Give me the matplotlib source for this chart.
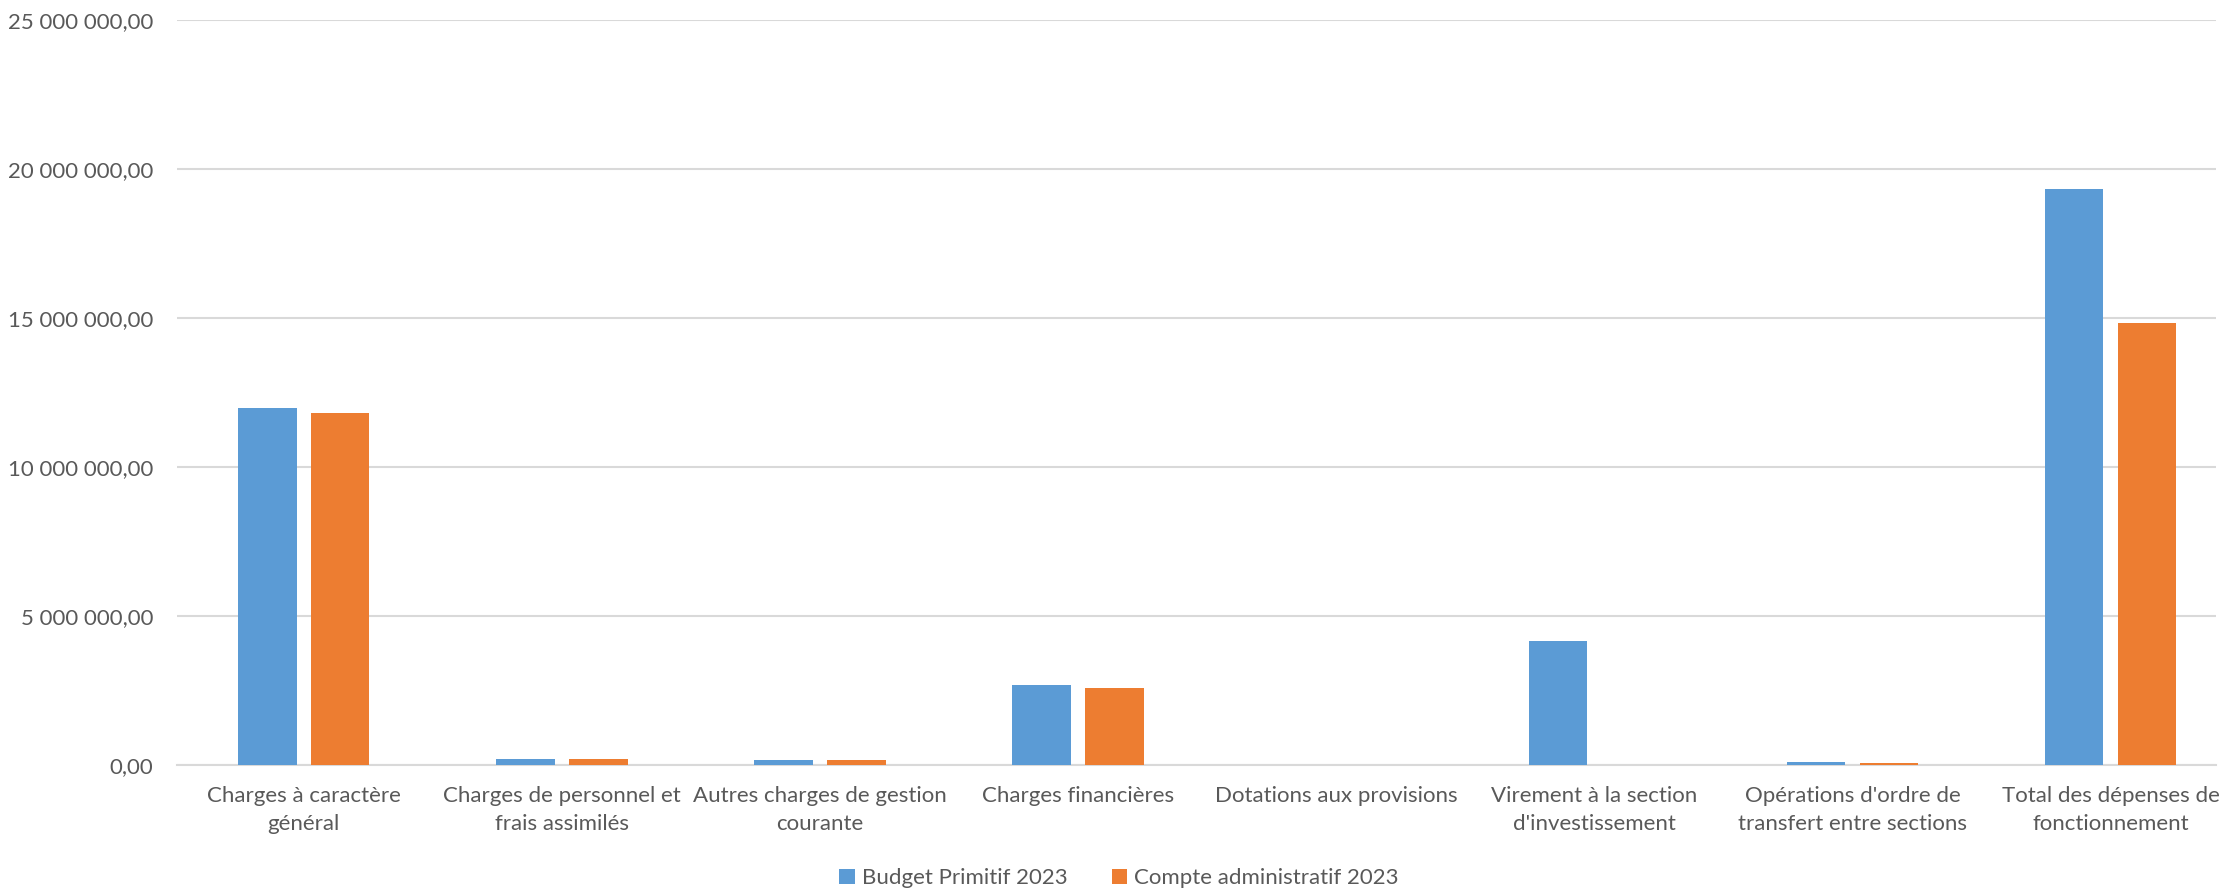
import numpy as np
import matplotlib.pyplot as plt
from matplotlib.ticker import FuncFormatter

# categories and values
categories = ["Charges à caractère\ngénéral", "Charges de personnel et\nfrais assimilés",
              "Autres charges de gestion\ncourante", "Charges financières",
              "Dotations aux provisions", "Virement à la section\nd'investissement",
              "Opérations d'ordre de\ntransfert entre sections",
              "Total des dépenses de\nfonctionnement"]
budget = [11980000, 200000, 180000, 2700000, 5000, 4160000, 90000, 19330000]
compte = [11820000, 190000, 160000, 2580000, 0, 0, 60000, 14830000]

plt.rcParams['font.family'] = ['Lato', 'DejaVu Sans']
txt = '#595959'
grid = '#d9d9d9'

fig = plt.figure(figsize=(22.38, 8.9), dpi=100)
ax = fig.add_axes([0.079, 0.1404, 0.911, 0.837])

x = np.arange(len(categories))
w = 0.227
off = 0.141
ax.bar(x - off, budget, w, color='#5b9bd5', label='Budget Primitif 2023', zorder=3)
ax.bar(x + off, compte, w, color='#ed7d31', label='Compte administratif 2023', zorder=3)

ax.set_xlim(-0.492, 7.407)
ax.set_ylim(0, 25000000)
ax.set_yticks(np.arange(0, 25000001, 5000000))


def fr(v, pos):
    return f"{v:,.2f}".replace(",", " ").replace(".", ",")


ax.yaxis.set_major_formatter(FuncFormatter(fr))
ax.grid(axis='y', color=grid, linewidth=1.5, zorder=0)
for s in ['top', 'right', 'left']:
    ax.spines[s].set_visible(False)
ax.spines['bottom'].set_color(grid)
ax.spines['bottom'].set_linewidth(1.5)
ax.tick_params(axis='both', length=0, colors=txt, labelsize=16)
ax.tick_params(axis='y', pad=17)
ax.tick_params(axis='x', pad=15)
ax.set_xticks(x)
ax.set_xticklabels(categories, color=txt, linespacing=1.5)

leg = fig.legend(loc='center', bbox_to_anchor=(0.5, 0.013), ncol=2, frameon=False,
                 fontsize=16, handlelength=0.7, handleheight=0.7, columnspacing=2.0,
                 handletextpad=0.3, borderpad=0.1)
for t in leg.get_texts():
    t.set_color(txt)

fig.savefig('out.png', dpi=100)
